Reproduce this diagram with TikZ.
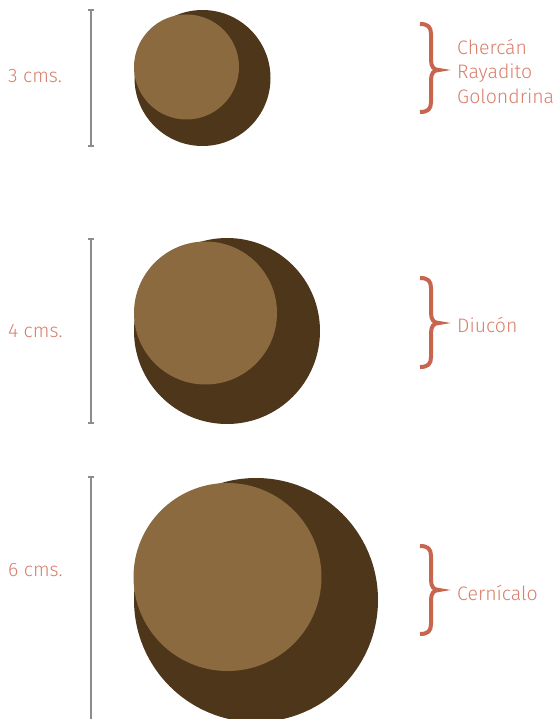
\documentclass[tikz,border=0pt]{standalone}
\usepackage{fontspec}
\setmainfont{Fira Sans Light}
\definecolor{darkbrown}{HTML}{4D3619}
\definecolor{lightbrown}{HTML}{8B6A40}
\definecolor{salmon}{HTML}{D9806C}
\definecolor{bracecol}{HTML}{C8654F}
\definecolor{bargray}{HTML}{8C8C8C}
\tikzset{
  lbl/.style={text=salmon, font=\fontsize{19.5}{24.5}\selectfont, inner sep=0pt},
  namelbl/.style={lbl, anchor=west, align=left},
  bar/.style={draw=bargray, line width=1.2pt},
  brc/.style={draw=bracecol, line width=4pt},
}
\newcommand{\mybrace}[3]{%
  \draw[brc] (420,#1) .. controls (428,#1) and (431,#1+3) .. (431,#1+10)
    -- (431,#2-10) .. controls (431,#2-3) and (434,#2) .. (439,#2)
    .. controls (434,#2) and (431,#2+3) .. (431,#2+10)
    -- (431,#3-10) .. controls (431,#3-3) and (428,#3) .. (420,#3);}
\begin{document}
\begin{tikzpicture}[x=1pt,y=-1pt]
\useasboundingbox[fill=white] (0,0) rectangle (556,719);
% circles
\fill[darkbrown] (202.5,78) circle[radius=68];
\fill[lightbrown] (186.5,67) circle[radius=52.5];
\fill[darkbrown] (227,331) circle[radius=93];
\fill[lightbrown] (205.5,313) circle[radius=71.5];
\fill[darkbrown] (256,600) circle[radius=122];
\fill[lightbrown] (227.5,577) circle[radius=94];
% scale bars
\coordinate (a1) at (91,10); \coordinate (a2) at (91,146);
\coordinate (b1) at (91,239); \coordinate (b2) at (91,423);
\coordinate (c1) at (91,477); \coordinate (c2) at (91,722);
\foreach \p/\q in {a1/a2,b1/b2,c1/c2}{
  \draw[bar] (\p) -- (\q);
  \draw[bar] ([xshift=-3pt]\p) -- ([xshift=3pt]\p);
  \draw[bar] ([xshift=-3pt]\q) -- ([xshift=3pt]\q);
}
\node[lbl, anchor=west] (l1) at (8,76) {3 cms.};
\node[lbl, anchor=west] (l2) at (8,331) {4 cms.};
\node[lbl, anchor=west] (l3) at (8,570) {6 cms.};
% braces
\mybrace{24}{70}{112}
\mybrace{278}{323}{367}
\mybrace{546}{590}{634}
\node[namelbl] (n1) at (457,71) {Chercán\\Rayadito\\Golondrina};
\node[namelbl] (n2) at (457,325) {Diucón};
\node[namelbl] (n3) at (457,593) {Cernícalo};
\end{tikzpicture}
\end{document}
